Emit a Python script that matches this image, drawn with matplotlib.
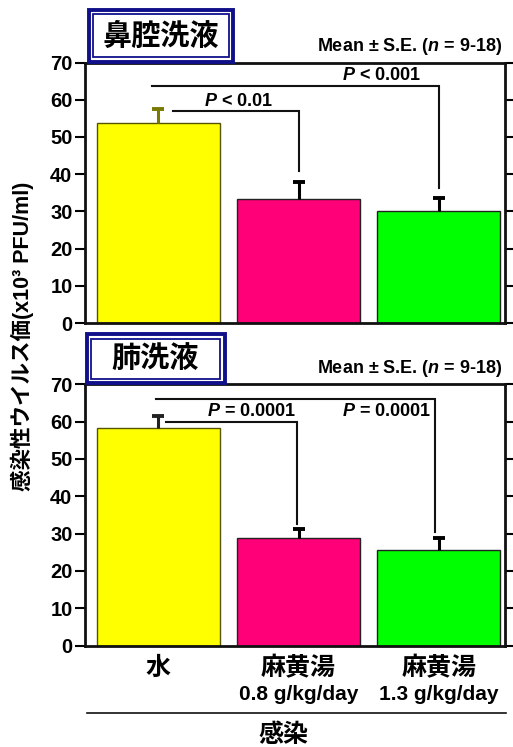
import matplotlib
matplotlib.use("Agg")
import matplotlib.pyplot as plt
from matplotlib.patches import Rectangle
from matplotlib.lines import Line2D
import matplotlib.transforms as mtransforms

plt.rcParams['font.family'] = ['Liberation Sans', 'Noto Sans CJK JP', 'DejaVu Sans']
plt.rcParams['mathtext.fontset'] = 'custom'
plt.rcParams['mathtext.it'] = 'Liberation Sans:italic:bold'
plt.rcParams['mathtext.rm'] = 'Liberation Sans:bold'
plt.rcParams['mathtext.bf'] = 'Liberation Sans:bold'

# ---- data ----
categories = ['水', '麻黄湯', '麻黄湯']
doses = ['', '0.8 g/kg/day', '1.3 g/kg/day']
bar_colors = ['#FFFF00', '#FF0078', '#00FF00']
panel_titles = ['鼻腔洗液', '肺洗液']
nasal_mean = [53.7, 33.2, 30.1]
nasal_se = [3.9, 4.6, 3.4]
lung_mean = [58.4, 28.8, 25.7]
lung_se = [3.1, 2.5, 3.2]
nasal_err_colors = ['#7a7a00', '#000000', '#000000']
lung_err_colors = ['#222222', '#000000', '#000000']
yticks = [0, 10, 20, 30, 40, 50, 60, 70]
# significance brackets: (x_start, x_end, y_level, y_drop_end, label)
nasal_sig = [(0.107, 1.0, 56.9, 40.9, '$P$ < 0.01'),
             (-0.047, 2.0, 63.7, 36.4, '$P$ < 0.001')]
lung_sig = [(0.055, 0.987, 59.9, 32.6, '$P$ = 0.0001'),
            (-0.016, 1.975, 66.1, 30.4, '$P$ = 0.0001')]
stat_note = 'Mean ± S.E. ($n$ = 9-18)'
ylabel = '感染性ウイルス価(x10³ PFU/ml)'
group_label = '感染'

W, H = 513, 747
fig = plt.figure(figsize=(W / 100, H / 100), dpi=100)


def fx(px):
    return px / W


def fy(py):
    return 1 - py / H


def make_axes(top_px, bot_px):
    ax = fig.add_axes([fx(85), fy(bot_px), fx(505) - fx(85), (bot_px - top_px) / H])
    return ax


ax1 = make_axes(62.5, 323)
ax2 = make_axes(384.3, 645.5)

positions = [0, 1, 2]

for ax, means, ses, ecols, sig in [(ax1, nasal_mean, nasal_se, nasal_err_colors, nasal_sig),
                                   (ax2, lung_mean, lung_se, lung_err_colors, lung_sig)]:
    ax.bar(positions, means, width=0.88, color=bar_colors,
           edgecolor=['#555500', '#222222', '#222222'], linewidth=1.0, zorder=2)
    for p, m, s, c in zip(positions, means, ses, ecols):
        ax.vlines(p, m, m + s, colors=c, linewidth=2.2, zorder=3)
        ax.plot([p], [m + s], marker='_', markersize=9, markeredgewidth=2.8,
                color=c, zorder=3)
    ax.set_xlim(-0.523, 2.473)
    ax.set_ylim(0, 70)
    ax.set_yticks(yticks)
    ax.set_yticklabels([str(t) for t in yticks], fontsize=14.5, fontweight='bold')
    ax.set_xticks([])
    ax.tick_params(axis='y', which='both', direction='out', length=7, width=1.5,
                   left=True, right=True, labelright=False, pad=2)
    for sp in ax.spines.values():
        sp.set_linewidth(2.0)
        sp.set_color('#111111')
    # significance brackets
    for (xs, xe, yl, yd, lab) in sig:
        ax.plot([xs, xe, xe], [yl, yl, yd], color='#111111', lw=1.5,
                solid_joinstyle='miter', zorder=4, clip_on=False)

# P labels
ax1.text(0.57, 57.3, nasal_sig[0][4], ha='center', va='bottom', fontsize=13, fontweight='bold')
ax1.text(1.59, 64.1, nasal_sig[1][4], ha='center', va='bottom', fontsize=13, fontweight='bold')
ax2.text(0.985, 60.3, lung_sig[0][4], ha='right', va='bottom', fontsize=13, fontweight='bold')
ax2.text(1.945, 62.6, lung_sig[1][4], ha='right', va='center', fontsize=13, fontweight='bold')

# stat notes
for ax in (ax1, ax2):
    ax.text(0.995, 1.022, stat_note, transform=ax.transAxes, ha='right', va='bottom',
            fontsize=13, fontweight='bold')

# title boxes
def title_box(x0, y0, x1, y1, text):
    outer = Rectangle((fx(x0), fy(y1)), fx(x1) - fx(x0), (y1 - y0) / H,
                      transform=fig.transFigure, fill=True, facecolor='white',
                      edgecolor='#10108a', linewidth=2.8, zorder=5)
    inner = Rectangle((fx(x0 + 4.5), fy(y1 - 4.5)), fx(x1 - 4.5) - fx(x0 + 4.5), (y1 - y0 - 9) / H,
                      transform=fig.transFigure, fill=False,
                      edgecolor='#10108a', linewidth=1.3, zorder=6)
    fig.add_artist(outer)
    fig.add_artist(inner)
    fig.text(fx((x0 + x1) / 2), fy((y0 + y1) / 2), text, ha='center', va='center',
             fontsize=21, fontweight='bold', zorder=7,
             family=['Noto Sans CJK JP', 'DejaVu Sans'])


title_box(88.5, 9.5, 233, 61.5, panel_titles[0])
title_box(86.5, 334, 224.5, 383, panel_titles[1])

# x labels for bottom axes
trans = mtransforms.blended_transform_factory(ax2.transData, fig.transFigure)
for p, c, d in zip(positions, categories, doses):
    ax2.text(p, fy(668), c, transform=trans, ha='center', va='center', fontsize=18,
             fontweight='bold', family=['Noto Sans CJK JP', 'DejaVu Sans'])
    if d:
        ax2.text(p, fy(695), d, transform=trans, ha='center', va='center', fontsize=15,
                 fontweight='bold')

# group bracket line and label
fig.add_artist(Line2D([fx(86.7), fx(506)], [fy(712.7), fy(712.7)], transform=fig.transFigure,
                      color='#111111', lw=1.2))
fig.text(fx(283), fy(735), group_label, ha='center', va='center', fontsize=18,
         fontweight='bold', family=['Noto Sans CJK JP', 'DejaVu Sans'])

# y label
fig.text(fx(22), fy(336), ylabel, rotation=90, ha='center', va='center', fontsize=15.5,
         fontweight='bold')

fig.savefig('out.png', dpi=100, facecolor='white')
